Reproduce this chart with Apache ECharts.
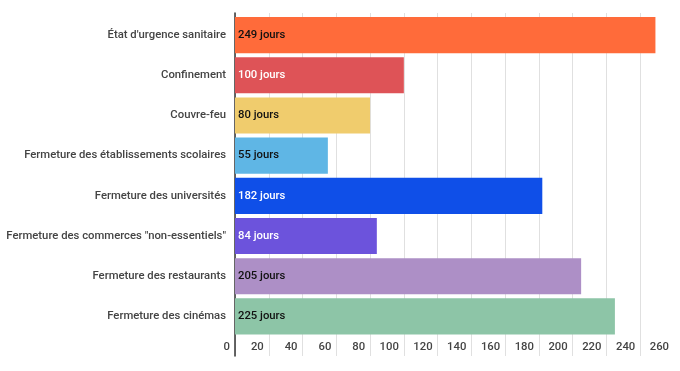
<!DOCTYPE html>
<html><head><meta charset="utf-8">
<script src="https://cdn.jsdelivr.net/npm/echarts@6/dist/echarts.min.js"></script>
<style>html,body{margin:0;padding:0;background:#fff}#c{width:680px;height:371px}</style>
</head><body><div id="c"></div>
<script>
const categories = ["État d'urgence sanitaire","Confinement","Couvre-feu","Fermeture des établissements scolaires","Fermeture des universités","Fermeture des commerces \"non-essentiels\"","Fermeture des restaurants","Fermeture des cinémas"];
const values = [249,100,80,55,182,84,205,225];
const barColors = ["#FF6B3A","#DE5357","#F0CC6D","#5FB6E5","#0F4FE8","#6C53DC","#AD8FC6","#8DC5A7"];
const labelColors = ["#111","#fff","#111","#111","#fff","#fff","#111","#111"];
const xTicks = {min:0,max:260,interval:20};

const chart = echarts.init(document.getElementById('c'));
const gridCol = '#e0e0e0';
const lineColors = [];
for (let v = xTicks.min; v <= xTicks.max; v += xTicks.interval) lineColors.push(v === xTicks.max ? 'rgba(0,0,0,0)' : gridCol);
const font = {color:'#444',fontSize:11.3,fontWeight:500,fontFamily:'Roboto'};
chart.setOption({
  animation:false,
  grid:[
    {left:235,right:6,top:13,bottom:15,containLabel:false,outerBoundsMode:'none'},
    {left:235,right:6,top:15,bottom:34.5,containLabel:false,outerBoundsMode:'none'}
  ],
  xAxis:[
    {gridIndex:0,type:'value',min:xTicks.min,max:xTicks.max,interval:xTicks.interval,
      axisLine:{show:false},axisTick:{show:false},
      splitLine:{show:true,lineStyle:{color:lineColors,width:1}},
      axisLabel:Object.assign({align:'right',padding:[0,5,0,0],margin:-14,hideOverlap:false},font)},
    {gridIndex:1,type:'value',min:xTicks.min,max:xTicks.max,interval:xTicks.interval,show:false}
  ],
  yAxis:[
    {gridIndex:0,type:'value',axisLine:{show:true,lineStyle:{color:'#333',width:1.5}},
      axisTick:{show:false},axisLabel:{show:false},splitLine:{show:false}},
    {gridIndex:1,type:'category',data:categories,inverse:true,
      axisLine:{show:false},axisTick:{show:false},
      axisLabel:Object.assign({margin:9,hideOverlap:false},font)}
  ],
  series:[{type:'bar',xAxisIndex:1,yAxisIndex:1,barCategoryGap:'10%',
    data: values.map((v,i)=>({value:v,itemStyle:{color:barColors[i]},label:{color:labelColors[i]}})),
    label:{show:true,position:'insideLeft',distance:3,formatter:p=>p.value+' jours',fontSize:11.3,fontWeight:500,fontFamily:'Roboto'}
  }]
});
</script></body></html>
